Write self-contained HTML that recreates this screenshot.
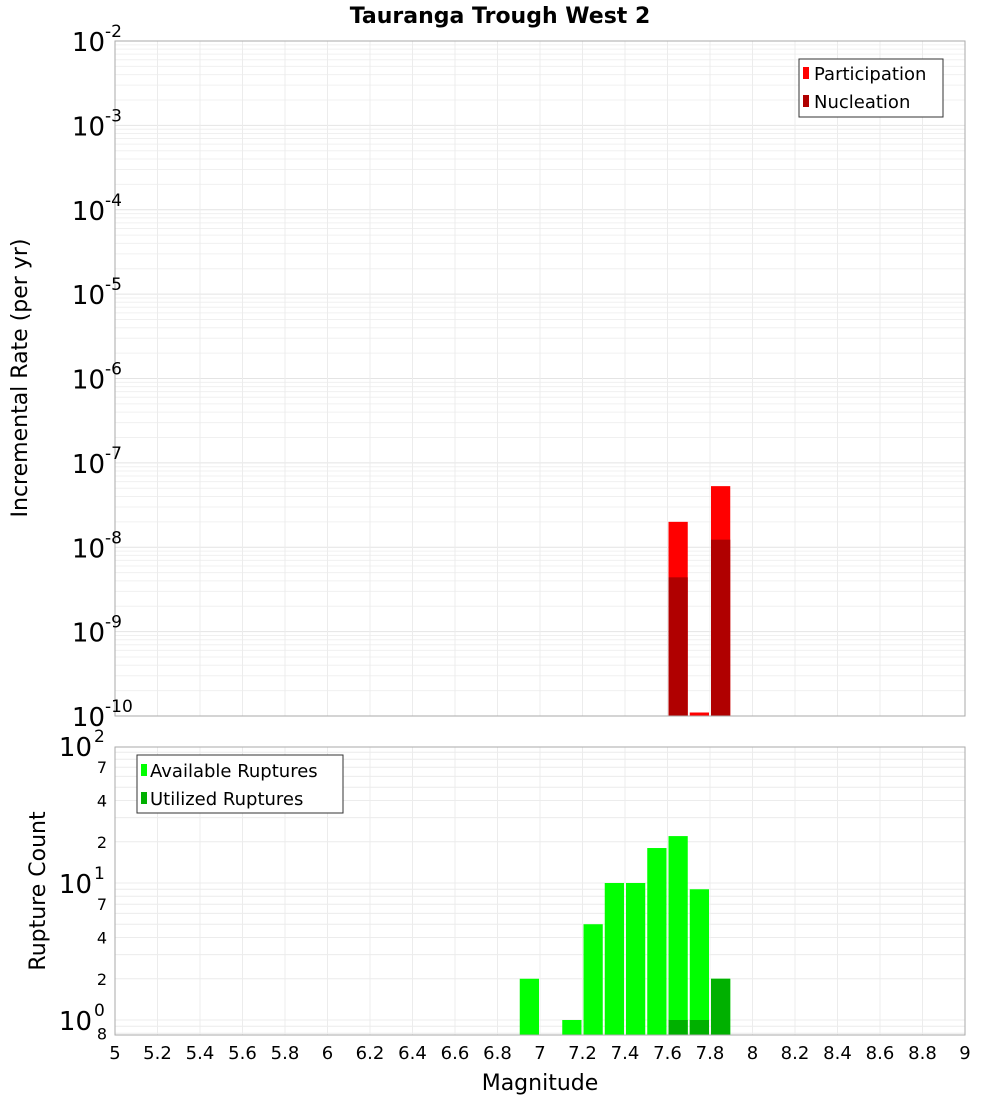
<!DOCTYPE html>
<html><head><meta charset="utf-8"><style>
body{margin:0;background:#fff;font-family:"Liberation Sans","DejaVu Sans",sans-serif}
svg text{font-family:"DejaVu Sans","Liberation Sans",sans-serif}
</style></head><body>
<svg id="c" width="1000" height="1100" xmlns="http://www.w3.org/2000/svg">
<text x="500" y="23" text-anchor="middle" font-size="22" font-weight="bold">Tauranga Trough West 2</text>
<text transform="translate(27,378) rotate(-90)" text-anchor="middle" font-size="22">Incremental Rate (per yr)</text>
<text transform="translate(45,891) rotate(-90)" text-anchor="middle" font-size="22">Rupture Count</text>
<text x="540" y="1090" text-anchor="middle" font-size="22">Magnitude</text>
<g id="topG"></g><g id="botG"></g>
<g>
<rect x="799" y="59" width="144" height="58" fill="#fff" stroke="#333"/>
<rect x="803" y="67" width="6" height="12" fill="#ff0000"/><text x="814" y="80" font-size="18">Participation</text>
<rect x="803" y="95" width="6" height="12" fill="#b00000"/><text x="814" y="108" font-size="18">Nucleation</text>
</g>
<g>
<rect x="137" y="755" width="206" height="58" fill="#fff" stroke="#333"/>
<rect x="141" y="764" width="6" height="12" fill="#00ff00"/><text x="150" y="777" font-size="18">Available Ruptures</text>
<rect x="141" y="792" width="6" height="12" fill="#00b000"/><text x="150" y="805" font-size="18">Utilized Ruptures</text>
</g>
</svg>
<script>
const mags=[7.65,7.75,7.85];
const participation=[2.0e-8,1.1e-10,5.3e-8];
const nucleation=[4.4e-9,0,1.23e-8];
const countMags=[6.95,7.15,7.25,7.35,7.45,7.55,7.65,7.75,7.85];
const available=[2,1,5,10,10,18,22,9,2];
const utilized=[0,0,0,0,0,0,1,1,2];
const xTicks=["5","5.2","5.4","5.6","5.8","6","6.2","6.4","6.6","6.8","7","7.2","7.4","7.6","7.8","8","8.2","8.4","8.6","8.8","9"];
const NS="http://www.w3.org/2000/svg";
const X0=115,X1=965;
const xs=m=>X0+(m-5)/4*(X1-X0);
const T0=41,T1=716; const yT=v=>T0+(-2-Math.log10(v))/8*(T1-T0);
const B0=747,B1=1035; const yB=v=>1020-Math.log10(v)*137;
function el(p,t,a){const e=document.createElementNS(NS,t);for(const k in a)e.setAttribute(k,a[k]);p.appendChild(e);return e;}
const svg=document.getElementById('c');
const topG=document.getElementById('topG'),botG=document.getElementById('botG');
for(let d=-10;d<-2;d++)for(let k=1;k<10;k++){const y=yT(k*Math.pow(10,d));el(topG,'line',{x1:X0,x2:X1,y1:y,y2:y,stroke:k==1?'#e4e4e4':'#f0f0f0'});}
for(let d=-1;d<2;d++)for(let k=1;k<10;k++){const y=yB(k*Math.pow(10,d));if(y>B0&&y<B1)el(botG,'line',{x1:X0,x2:X1,y1:y,y2:y,stroke:'#ececec'});}
xTicks.forEach(t=>{const x=xs(+t);
el(topG,'line',{x1:x,x2:x,y1:T0,y2:T1,stroke:'#ececec'});
el(botG,'line',{x1:x,x2:x,y1:B0,y2:B1,stroke:'#ececec'});
const tx=el(svg,'text',{x:x,y:1059,'text-anchor':'middle','font-size':18});tx.textContent=t;

});
for(let d=-10;d<=-2;d++){const y=yT(Math.pow(10,d));
const t=el(svg,'text',{x:105,y:y+10,'text-anchor':'end','font-size':26});t.textContent='10';


const s=el(svg,'text',{x:105,y:y-4,'font-size':17});s.textContent=String(d);

}
[[100,'10','2'],[10,'10','1'],[1,'10','0']].forEach(([v,b,e])=>{const y=yB(v);
const t=el(svg,'text',{x:92,y:y+10,'text-anchor':'end','font-size':26});t.textContent=b;


const s=el(svg,'text',{x:94,y:y-4,'font-size':17});s.textContent=e;

});
[[70,'7'],[40,'4'],[20,'2'],[7,'7'],[4,'4'],[2,'2'],[0.8,'8']].forEach(([v,l])=>{const t=el(svg,'text',{x:107,y:yB(v)+6,'text-anchor':'end','font-size':16});t.textContent=l;

});
mags.forEach((m,i)=>{const xa=xs(m-0.05)+1,w=xs(m+0.05)-xs(m-0.05)-2;
if(participation[i]>0){const y=yT(participation[i]);const r=el(topG,'rect',{x:xa,y:y,width:w,height:T1-y,fill:'#ff0000'});

}
if(nucleation[i]>0){const y=yT(nucleation[i]);const r=el(topG,'rect',{x:xa,y:y,width:w,height:T1-y,fill:'#b00000'});

}});
countMags.forEach((m,i)=>{const xa=xs(m-0.05)+1,w=xs(m+0.05)-xs(m-0.05)-2;
if(available[i]>0){const y=yB(available[i]);const r=el(botG,'rect',{x:xa,y:y,width:w,height:B1-y,fill:'#00ff00'});

}
if(utilized[i]>0){const y=yB(utilized[i]);const r=el(botG,'rect',{x:xa,y:y,width:w,height:B1-y,fill:'#00b000'});

}});
el(topG,'rect',{x:X0,y:T0,width:X1-X0,height:T1-T0,fill:'none',stroke:'#aaa'});
el(botG,'rect',{x:X0,y:B0,width:X1-X0,height:B1-B0,fill:'none',stroke:'#aaa'});
</script>
</body></html>
